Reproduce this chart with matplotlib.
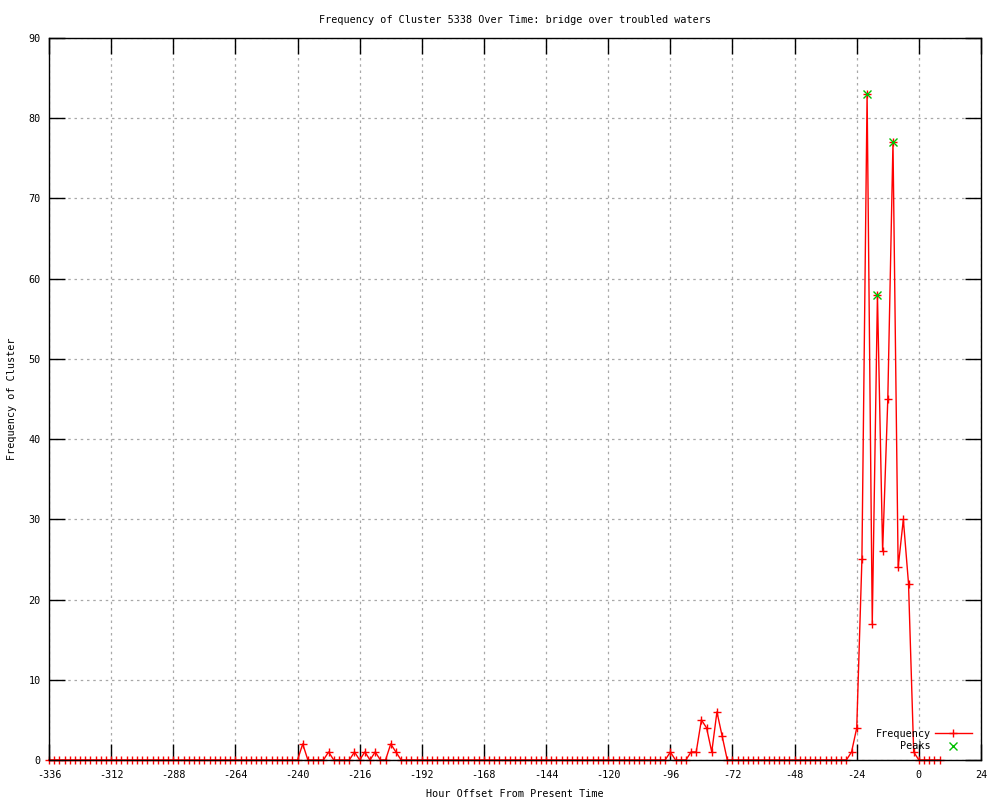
import matplotlib
matplotlib.use("Agg")
import matplotlib.pyplot as plt
import numpy as np

# ---- data ----
hours = list(range(-336, 10, 2))
nonzero = {
    -238: 2, -228: 1, -218: 1, -214: 1, -210: 1, -204: 2, -202: 1,
    -96: 1, -88: 1, -86: 1, -84: 5, -82: 4, -80: 1, -78: 6, -76: 3,
    -26: 1, -24: 4, -22: 25, -20: 83, -18: 17, -16: 58, -14: 26,
    -12: 45, -10: 77, -8: 24, -6: 30, -4: 22, -2: 1,
}
frequency = [nonzero.get(h, 0) for h in hours]
peak_hours = [-20, -16, -10]
peak_values = [83, 58, 77]
xticks = list(range(-336, 25, 24))
yticks = list(range(0, 91, 10))

title = "Frequency of Cluster 5338 Over Time: bridge over troubled waters"
xlabel = "Hour Offset From Present Time"
ylabel = "Frequency of Cluster"

# ---- style ----
plt.rcParams['font.family'] = ['DejaVu Sans Mono']
plt.rcParams['axes.unicode_minus'] = False
fs = 7.3

fig = plt.figure(figsize=(10, 8), dpi=100)
ax = fig.add_axes([0.049, 0.05, 0.932, 0.9025])

ax.plot(hours, frequency, color='#ff0000', lw=1.0, marker='+', ms=6,
        mew=1.0, label='Frequency', zorder=3, clip_on=False)
ax.plot(peak_hours, peak_values, ls='none', color='#00c000', marker='x',
        ms=6, mew=1.0, label='Peaks', zorder=4)

ax.set_xlim(-336, 24)
ax.set_ylim(0, 90)
ax.set_xticks(xticks)
ax.set_yticks(yticks)
ax.tick_params(direction='in', length=11.5, width=1, top=True, right=True,
               labelsize=fs, colors='black')
ax.tick_params(axis='x', pad=7)
ax.tick_params(axis='y', pad=6)
ax.grid(True, color='#a8a8a8', ls=(0, (2, 3)), lw=0.9)
ax.set_axisbelow(True)
for s in ax.spines.values():
    s.set_linewidth(1.0)
    s.set_zorder(5)

ax.set_title(title, fontsize=fs, pad=11)
ax.set_xlabel(xlabel, fontsize=fs, labelpad=7)
ax.set_ylabel(ylabel, fontsize=fs, labelpad=8)

leg = ax.legend(loc='lower right', bbox_to_anchor=(0.99, 0.012), frameon=False,
                markerfirst=False, fontsize=fs, handlelength=3.6,
                handletextpad=0.4, labelspacing=0.25, borderaxespad=0,
                borderpad=0)

fig.savefig('out.png', dpi=100)
